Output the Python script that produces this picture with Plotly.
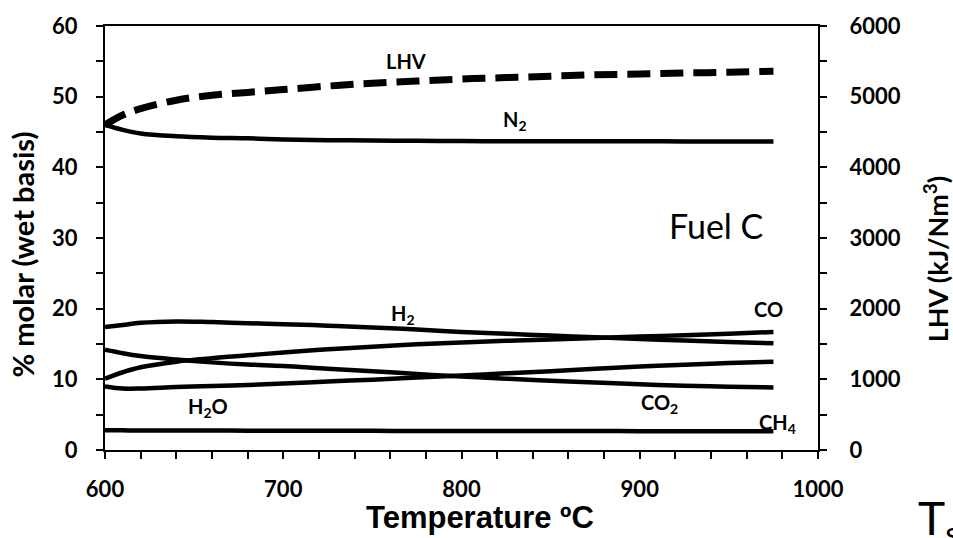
import plotly.graph_objects as go

# Temperature (°C)
temp = [600, 610, 620, 640, 660, 680, 700, 725, 750, 775, 800, 825, 850, 875, 900, 925, 950, 975]

# % molar (wet basis)
n2  = [46.0, 45.3, 44.8, 44.4, 44.2, 44.1, 43.95, 43.85, 43.8, 43.75, 43.72, 43.7, 43.7, 43.7, 43.68, 43.67, 43.66, 43.65]
h2  = [17.4, 17.7, 18.0, 18.2, 18.1, 17.95, 17.8, 17.6, 17.35, 17.05, 16.7, 16.45, 16.2, 15.95, 15.7, 15.5, 15.3, 15.1]
co  = [10.1, 11.0, 11.7, 12.5, 13.0, 13.4, 13.8, 14.25, 14.6, 14.95, 15.2, 15.45, 15.65, 15.85, 16.05, 16.25, 16.45, 16.7]
co2 = [14.2, 13.7, 13.3, 12.8, 12.4, 12.1, 11.9, 11.5, 11.15, 10.75, 10.4, 10.1, 9.8, 9.55, 9.3, 9.1, 8.95, 8.85]
h2o = [9.0, 8.7, 8.7, 8.9, 9.05, 9.2, 9.4, 9.7, 9.95, 10.25, 10.55, 10.85, 11.15, 11.5, 11.8, 12.05, 12.3, 12.5]
ch4 = [2.8, 2.78, 2.77, 2.76, 2.75, 2.74, 2.73, 2.72, 2.71, 2.7, 2.7, 2.69, 2.68, 2.68, 2.67, 2.66, 2.66, 2.65]

# LHV (kJ/Nm3)
lhv = [4600, 4740, 4830, 4950, 5020, 5060, 5100, 5150, 5190, 5220, 5250, 5270, 5290, 5310, 5320, 5335, 5345, 5360]

labels = ["LHV", "N<sub>2</sub>", "H<sub>2</sub>", "CO", "H<sub>2</sub>O", "CO<sub>2</sub>", "CH<sub>4</sub>"]
label_x = [769, 830, 767, 972, 658, 911, 977]
label_y = [55.1, 46.6, 19.2, 20.0, 6.0, 6.6, 3.7]

FONT = "Lato"
fig = go.Figure()
line = dict(color="black", width=4.5)
for ys in [n2, h2, co, co2, h2o, ch4]:
    fig.add_trace(go.Scatter(x=temp, y=ys, mode="lines", line=line, showlegend=False,
                             line_shape="spline"))
fig.add_trace(go.Scatter(x=temp, y=lhv, mode="lines", yaxis="y2", showlegend=False,
                         line=dict(color="black", width=7, dash="23px,10px"), line_shape="spline"))

for t, lx, ly in zip(labels, label_x, label_y):
    fig.add_annotation(x=lx, y=ly, xref="x", yref="y", text=t, showarrow=False,
                       font=dict(family=FONT, size=20, color="black", weight="bold"))

fig.add_annotation(x=943, y=31.8, xref="x", yref="y", text="Fuel C", showarrow=False,
                   font=dict(family=FONT, size=34, color="black"))

# axis titles
fig.add_annotation(x=0.526, y=-0.159, xref="paper", yref="paper", text="Temperature ºC",
                   showarrow=False, xanchor="center", yanchor="middle",
                   font=dict(family="Liberation Sans", size=31, color="black", weight="bold"))
fig.add_annotation(x=-0.115, y=0.461, xref="paper", yref="paper", text="% molar (wet basis)",
                   showarrow=False, textangle=-90, xanchor="center", yanchor="middle",
                   font=dict(family=FONT, size=29, color="black", weight="bold"))
fig.add_annotation(x=1.165, y=0.449, xref="paper", yref="paper", text="LHV (kJ/Nm<sup>3</sup>)",
                   showarrow=False, textangle=-90, xanchor="center", yanchor="middle",
                   font=dict(family=FONT, size=27, color="black", weight="bold"))
fig.add_annotation(x=1.137, y=-0.089, xref="paper", yref="paper", text="T<sub>s</sub>",
                   showarrow=False, xanchor="left", yanchor="top",
                   font=dict(family=FONT, size=46, color="black"))

tick_common = dict(ticks="outside", ticklen=7, tickwidth=2, tickcolor="black")
fig.update_layout(
    width=953, height=538,
    margin=dict(l=105, r=135, t=20, b=88),
    plot_bgcolor="white", paper_bgcolor="white",
    font=dict(family=FONT, color="black"),
    xaxis=dict(range=[600, 1000], dtick=100, showgrid=False, zeroline=False,
               showline=True, linecolor="black", linewidth=2, mirror=True,
               minor=dict(dtick=20, **tick_common), **tick_common,
               tickfont=dict(family=FONT, size=22, weight="bold"),
               ticklabelstandoff=12),
    yaxis=dict(range=[0, 60], dtick=10, showgrid=False, zeroline=False,
               showline=True, linecolor="black", linewidth=2,
               minor=dict(dtick=5, **tick_common), **tick_common,
               tickfont=dict(family=FONT, size=22, weight="bold"),
               ticklabelstandoff=14),
    yaxis2=dict(range=[0, 6000], dtick=1000, overlaying="y", side="right",
                showgrid=False, zeroline=False, showline=True, linecolor="black", linewidth=2,
                minor=dict(dtick=500, **tick_common), **tick_common,
                tickfont=dict(family=FONT, size=22, weight="bold"),
                ticklabelstandoff=18),
)

fig.write_html("out.html")
